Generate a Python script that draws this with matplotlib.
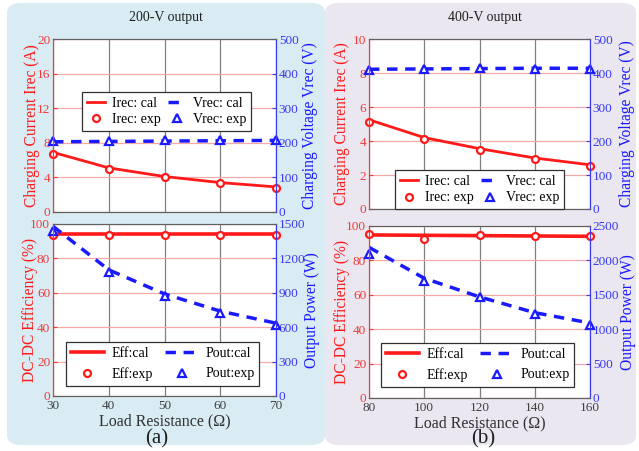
import matplotlib
matplotlib.use("Agg")
import matplotlib.pyplot as plt
from matplotlib.patches import FancyBboxPatch

plt.rcParams['font.family'] = ['Liberation Serif', 'DejaVu Serif']

# ---------------- data ----------------
r200 = [30, 40, 50, 60, 70]
irec200_cal = [6.9, 5.1, 4.1, 3.4, 2.9]
irec200_exp = [6.7, 5.0, 4.0, 3.3, 2.8]
vrec200_cal = [203, 204, 205, 206, 207]
vrec200_exp = [205, 206, 207, 208, 208]
eff200_cal = [94.0, 94.0, 94.0, 94.0, 94.0]
eff200_exp = [93.6, 93.6, 93.6, 93.6, 93.5]
pout200_cal = [1480, 1100, 890, 740, 635]
pout200_exp = [1440, 1085, 875, 725, 620]

r400 = [80, 100, 120, 140, 160]
irec400_cal = [5.25, 4.2, 3.55, 3.0, 2.6]
irec400_exp = [5.1, 4.1, 3.5, 2.95, 2.5]
vrec400_cal = [411, 412, 413, 414, 414]
vrec400_exp = [410, 411, 414, 413, 413]
eff400_cal = [94.8, 94.6, 94.4, 94.2, 94.0]
eff400_exp = [95.2, 92.7, 94.8, 94.4, 94.2]
pout400_cal = [2190, 1740, 1470, 1240, 1090]
pout400_exp = [2100, 1705, 1465, 1225, 1060]

RED = '#ff1a1a'
BLUE = '#1a1aff'
TRED = '#f03a3a'
TBLUE = '#3a3af0'

fig = plt.figure(figsize=(6.39, 4.51), dpi=100)
W, H = 639, 451


def fx(x):
    return x / W


def fy(y):
    return 1 - y / H


# background panels
for (x0, x1, col) in [(7, 325, '#d9ecf3'), (325, 636, '#ebe7f0')]:
    p = FancyBboxPatch((fx(x0), fy(445)), fx(x1 - x0), (445 - 3) / H,
                       boxstyle='round,pad=0,rounding_size=0.022',
                       transform=fig.transFigure, facecolor=col, edgecolor='none',
                       zorder=-10)
    fig.patches.append(p)


def make_axes(x0, x1, y0, y1):
    ax = fig.add_axes([fx(x0), fy(y1), fx(x1 - x0), (y1 - y0) / H])
    ax2 = ax.twinx()
    return ax, ax2


def style(ax, ax2, xt, yl, yr, ylab_l, ylab_r, lx, rx, show_x):
    ax.set_xlim(xt[0], xt[-1])
    ax.set_xticks(xt)
    ax.set_ylim(yl[0], yl[-1])
    ax.set_yticks(yl)
    ax2.set_ylim(yr[0], yr[-1])
    ax2.set_yticks(yr)
    ax.grid(axis='x', color='#808080', lw=0.9)
    ax.grid(axis='y', color='#f4a8a8', lw=0.9)
    ax.set_axisbelow(True)
    ax.tick_params(axis='y', colors=TRED, labelsize=9.5, direction='in', length=3, pad=2)
    ax2.tick_params(axis='y', colors=TBLUE, labelsize=9.5, direction='in', length=3, pad=2)
    ax.tick_params(axis='x', colors='#404040', labelsize=9.5, direction='in', length=0, pad=3)
    if not show_x:
        ax.tick_params(axis='x', labelbottom=False)
    for a in (ax, ax2):
        a.spines['left'].set_color(TRED)
        a.spines['right'].set_color(TBLUE)
        a.spines['top'].set_color('#606060')
        a.spines['bottom'].set_color('#606060')
    ax.set_ylabel(ylab_l, color=RED, fontsize=11.2)
    ax2.set_ylabel(ylab_r, color=BLUE, fontsize=11.2)
    for a, c in ((ax, lx), (ax2, rx)):
        a.yaxis.set_label_coords(c, 0.5)
        a.yaxis.label.set_va('center')
        a.yaxis.label.set_ha('center')
        a.yaxis.label.set_rotation_mode('anchor')


def legend(ax2, h, labels, anchor, hl, ls, cs):
    leg = ax2.legend(h, labels, ncol=2, loc='upper left', bbox_to_anchor=anchor,
                     borderaxespad=0, fontsize=10, fancybox=False, framealpha=1,
                     edgecolor='#303030', handlelength=hl, columnspacing=cs,
                     handletextpad=0.5, labelspacing=ls, borderpad=0.35)
    leg.get_frame().set_linewidth(0.9)
    leg.set_zorder(20)


def top_panel(x0, x1, y0, y1, r, ic, ie, vc, ve, yl, yr, lx, rx, anchor):
    ax, ax2 = make_axes(x0, x1, y0, y1)
    l1, = ax.plot(r, ic, color=RED, lw=2)
    m1, = ax.plot(r, ie, 'o', color=RED, mfc='white', ms=5, mew=1.6, ls='none', clip_on=False)
    l2, = ax2.plot(r, vc, color=BLUE, lw=2.5, dashes=(3, 2.2))
    m2, = ax2.plot(r, ve, '^', color=BLUE, mfc='white', ms=6, mew=1.6, ls='none', clip_on=False)
    style(ax, ax2, r, yl, yr, 'Charging Current Irec (A)', 'Charging Voltage Vrec (V)',
          lx, rx, False)
    legend(ax2, [l1, m1, l2, m2], ['Irec: cal', 'Irec: exp', 'Vrec: cal', 'Vrec: exp'],
           anchor, 1.3, 0.25, 0.5)
    return ax


def bottom_panel(x0, x1, y0, y1, r, ec, ee, pc, pe, yl, yr, lx, rx, anchor):
    ax, ax2 = make_axes(x0, x1, y0, y1)
    l1, = ax.plot(r, ec, color=RED, lw=2.6)
    m1, = ax.plot(r, ee, 'o', color=RED, mfc='white', ms=5, mew=1.6, ls='none', clip_on=False)
    l2, = ax2.plot(r, pc, color=BLUE, lw=2.5, dashes=(3, 2.2))
    m2, = ax2.plot(r, pe, '^', color=BLUE, mfc='white', ms=6, mew=1.6, ls='none', clip_on=False)
    style(ax, ax2, r, yl, yr, 'DC-DC Efficiency (%)', 'Output Power (W)', lx, rx, True)
    legend(ax2, [l1, m1, l2, m2], ['Eff:cal', 'Eff:exp', 'Pout:cal', 'Pout:exp'],
           anchor, 2.4, 0.55, 0.9)
    ax.set_xlabel('Load Resistance (\u03a9)', fontsize=11.5, color='#303030', labelpad=1)
    return ax


top_panel(53, 276, 39, 212, r200, irec200_cal, irec200_exp, vrec200_cal, vrec200_exp,
          [0, 4, 8, 12, 16, 20], [0, 100, 200, 300, 400, 500], -0.095, 1.152, (0.13, 0.694))
bottom_panel(53, 276, 224, 396, r200, eff200_cal, eff200_exp, pout200_cal, pout200_exp,
             [0, 20, 40, 60, 80, 100], [0, 300, 600, 900, 1200, 1500], -0.105, 1.16,
             (0.058, 0.314))
top_panel(369, 590, 39, 209, r400, irec400_cal, irec400_exp, vrec400_cal, vrec400_exp,
          [0, 2, 4, 6, 8, 10], [0, 100, 200, 300, 400, 500], -0.12, 1.167, (0.118, 0.229))
bottom_panel(369, 590, 226, 398, r400, eff400_cal, eff400_exp, pout400_cal, pout400_exp,
             [0, 20, 40, 60, 80, 100], [0, 500, 1000, 1500, 2000, 2500], -0.124, 1.17,
             (0.054, 0.32))

fig.text(fx(166), fy(18), '200-V output', ha='center', va='center', fontsize=10, color='#202020')
fig.text(fx(485), fy(18), '400-V output', ha='center', va='center', fontsize=10, color='#202020')
fig.text(fx(157), fy(439), '(a)', ha='center', va='center', fontsize=15, color='#202020')
fig.text(fx(483), fy(439), '(b)', ha='center', va='center', fontsize=15, color='#202020')

fig.savefig('out.png', dpi=100)
